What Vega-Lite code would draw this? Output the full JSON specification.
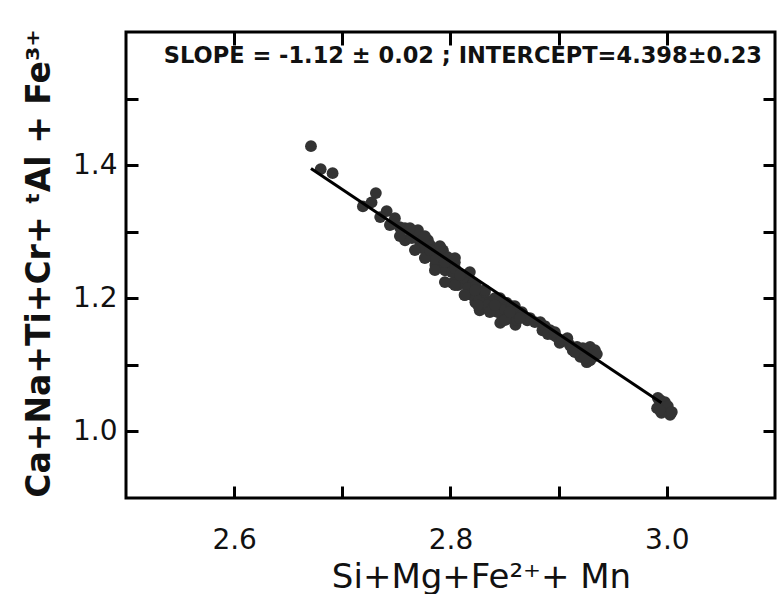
{
  "$schema": "https://vega.github.io/schema/vega-lite/v6.json",
  "autosize": {"type": "none"},
  "padding": {"left": 126, "top": 32, "right": 4, "bottom": 96},
  "width": 649,
  "height": 466,
  "background": "white",
  "config": {
    "view": {"stroke": "black", "strokeWidth": 3},
    "font": "DejaVu Sans",
    "axis": {"grid": false, "domain": false, "tickColor": "black", "tickWidth": 3, "labelColor": "#111", "titleColor": "#111"}
  },
  "datasets": {
    "pts": [
      {"x": 2.671, "y": 1.4285}, {"x": 2.680, "y": 1.394}, {"x": 2.691, "y": 1.388},
      {"x": 2.731, "y": 1.358}, {"x": 2.719, "y": 1.338}, {"x": 2.727, "y": 1.344},
      {"x": 2.741, "y": 1.331}, {"x": 2.735, "y": 1.322}, {"x": 2.744, "y": 1.310},
      {"x": 2.753, "y": 1.307}, {"x": 2.762, "y": 1.302}, {"x": 2.768, "y": 1.295},
      {"x": 2.772, "y": 1.283}, {"x": 2.778, "y": 1.272}, {"x": 2.781, "y": 1.280},
      {"x": 2.784, "y": 1.262}, {"x": 2.790, "y": 1.253}, {"x": 2.793, "y": 1.272},
      {"x": 2.797, "y": 1.262}, {"x": 2.799, "y": 1.247}, {"x": 2.788, "y": 1.265},
      {"x": 2.806, "y": 1.232}, {"x": 2.809, "y": 1.223}, {"x": 2.802, "y": 1.223},
      {"x": 2.815, "y": 1.227}, {"x": 2.818, "y": 1.212}, {"x": 2.824, "y": 1.208},
      {"x": 2.830, "y": 1.202}, {"x": 2.830, "y": 1.197}, {"x": 2.827, "y": 1.182},
      {"x": 2.834, "y": 1.193}, {"x": 2.839, "y": 1.197}, {"x": 2.843, "y": 1.193},
      {"x": 2.846, "y": 1.187}, {"x": 2.848, "y": 1.172}, {"x": 2.846, "y": 1.163},
      {"x": 2.852, "y": 1.193}, {"x": 2.858, "y": 1.182}, {"x": 2.864, "y": 1.172},
      {"x": 2.867, "y": 1.172}, {"x": 2.871, "y": 1.167}, {"x": 2.883, "y": 1.164},
      {"x": 2.885, "y": 1.152}, {"x": 2.892, "y": 1.152}, {"x": 2.895, "y": 1.145},
      {"x": 2.898, "y": 1.142}, {"x": 2.901, "y": 1.133}, {"x": 2.908, "y": 1.140},
      {"x": 2.908, "y": 1.137}, {"x": 2.913, "y": 1.122}, {"x": 2.917, "y": 1.127},
      {"x": 2.920, "y": 1.112}, {"x": 2.926, "y": 1.122}, {"x": 2.929, "y": 1.127},
      {"x": 2.932, "y": 1.112}, {"x": 2.926, "y": 1.104}, {"x": 2.929, "y": 1.107},
      {"x": 2.994, "y": 1.047}, {"x": 2.996, "y": 1.040}, {"x": 3.000, "y": 1.032},
      {"x": 2.991, "y": 1.035}, {"x": 3.003, "y": 1.025}, {"x": 2.995, "y": 1.028},
      {"x": 2.758, "y": 1.287}, {"x": 2.776, "y": 1.290}, {"x": 2.786, "y": 1.250},
      {"x": 2.795, "y": 1.242}, {"x": 2.804, "y": 1.254}, {"x": 2.811, "y": 1.235},
      {"x": 2.813, "y": 1.205}, {"x": 2.821, "y": 1.223}, {"x": 2.823, "y": 1.194},
      {"x": 2.836, "y": 1.182}, {"x": 2.855, "y": 1.170}, {"x": 2.860, "y": 1.160},
      {"x": 2.7486, "y": 1.3204}, {"x": 2.7579, "y": 1.3054}, {"x": 2.7643, "y": 1.2904},
      {"x": 2.7699, "y": 1.3024}, {"x": 2.7736, "y": 1.2754}, {"x": 2.7791, "y": 1.2874},
      {"x": 2.7828, "y": 1.2694}, {"x": 2.7865, "y": 1.2574}, {"x": 2.7911, "y": 1.2754},
      {"x": 2.7939, "y": 1.2483}, {"x": 2.7985, "y": 1.2544}, {"x": 2.8013, "y": 1.2393},
      {"x": 2.8041, "y": 1.2453}, {"x": 2.8068, "y": 1.2198}, {"x": 2.8115, "y": 1.2303},
      {"x": 2.8161, "y": 1.2153}, {"x": 2.8198, "y": 1.2048}, {"x": 2.8235, "y": 1.2183},
      {"x": 2.8262, "y": 1.1973}, {"x": 2.8318, "y": 1.2093}, {"x": 2.8346, "y": 1.1898},
      {"x": 2.8383, "y": 1.1853}, {"x": 2.8410, "y": 1.2003}, {"x": 2.8438, "y": 1.1793},
      {"x": 2.8503, "y": 1.1823}, {"x": 2.8530, "y": 1.1703}, {"x": 2.8567, "y": 1.1883},
      {"x": 2.8614, "y": 1.1673}, {"x": 2.8660, "y": 1.1793}, {"x": 2.8734, "y": 1.1703},
      {"x": 2.8780, "y": 1.1643}, {"x": 2.8872, "y": 1.1583}, {"x": 2.8900, "y": 1.1462},
      {"x": 2.8965, "y": 1.1492}, {"x": 2.9030, "y": 1.1372}, {"x": 2.9103, "y": 1.1297},
      {"x": 2.9150, "y": 1.1192}, {"x": 2.9224, "y": 1.1252}, {"x": 2.9242, "y": 1.1102},
      {"x": 2.9335, "y": 1.1222}, {"x": 2.9353, "y": 1.1162},
      {"x": 2.9917, "y": 1.0502}, {"x": 2.9982, "y": 1.0441}, {"x": 3.0009, "y": 1.0381},
      {"x": 2.9935, "y": 1.0321}, {"x": 3.0046, "y": 1.0291},
      {"x": 2.7625, "y": 1.3054}, {"x": 2.7763, "y": 1.2934}, {"x": 2.7902, "y": 1.2784},
      {"x": 2.8041, "y": 1.2604}, {"x": 2.8179, "y": 1.2393}, {"x": 2.8318, "y": 1.2123},
      {"x": 2.8457, "y": 1.2003}, {"x": 2.8595, "y": 1.1883}, {"x": 2.7532, "y": 1.2934},
      {"x": 2.7671, "y": 1.2724}, {"x": 2.7763, "y": 1.2604}, {"x": 2.7856, "y": 1.2423},
      {"x": 2.7948, "y": 1.2243}, {"x": 2.8041, "y": 1.2198}, {"x": 2.8133, "y": 1.2048},
      {"x": 2.8253, "y": 1.1898}, {"x": 2.8364, "y": 1.1793}, {"x": 2.8503, "y": 1.1673},
      {"x": 2.8641, "y": 1.1703}, {"x": 2.7810, "y": 1.2724}, {"x": 2.7948, "y": 1.2544},
      {"x": 2.8087, "y": 1.2348}, {"x": 2.8226, "y": 1.2123}, {"x": 2.8410, "y": 1.1898},
      {"x": 2.8549, "y": 1.1793}
    ],
    "fit": [
      {"x": 2.671, "y": 1.395},
      {"x": 2.995, "y": 1.043}
    ],
    "note": [
      {"x": 2.535, "y": 1.564, "label": "SLOPE = -1.12 ± 0.02 ; INTERCEPT=4.398±0.23"}
    ]
  },
  "resolve": {"axis": {"x": "independent", "y": "independent"}},
  "layer": [
    {
      "data": {"name": "pts"},
      "mark": {"type": "point", "filled": true, "shape": "circle", "size": 140, "color": "#333333", "opacity": 1},
      "encoding": {
        "x": {
          "field": "x", "type": "quantitative",
          "scale": {"domain": [2.5, 3.1], "nice": false, "zero": false},
          "axis": {
            "orient": "bottom", "values": [2.6, 2.7, 2.8, 2.9, 3.0],
            "tickSize": -12, "labelPadding": 40, "labelFontSize": 28,
            "labelExpr": "indexof(['2.6','2.8','3.0'], format(datum.value,'.1f')) >= 0 ? format(datum.value,'.1f') : ''",
            "title": "Si+Mg+Fe²⁺+ Mn", "titleFontSize": 34, "titleFontWeight": "normal",
            "titleX": 355, "titleY": 62, "titleBaseline": "top"
          }
        },
        "y": {
          "field": "y", "type": "quantitative",
          "scale": {"domain": [0.9, 1.6], "nice": false, "zero": false},
          "axis": {
            "orient": "left", "values": [1.0, 1.1, 1.2, 1.3, 1.4, 1.5],
            "tickSize": -12, "labelPadding": 21, "labelFontSize": 28,
            "labelExpr": "indexof(['1.0','1.2','1.4'], format(datum.value,'.1f')) >= 0 ? format(datum.value,'.1f') : ''",
            "title": "Ca+Na+Ti+Cr+ ᵗAl + Fe³⁺", "titleFontSize": 33, "titleFontWeight": "bold",
            "titleX": -70, "titleY": 231, "titleBaseline": "bottom", "titleAngle": 270
          }
        }
      }
    },
    {
      "data": {"name": "fit"},
      "mark": {"type": "line", "color": "black", "strokeWidth": 3},
      "encoding": {
        "x": {
          "field": "x", "type": "quantitative",
          "scale": {"domain": [2.5, 3.1], "nice": false, "zero": false},
          "axis": {"orient": "top", "values": [2.6, 2.7, 2.8, 2.9, 3.0], "tickSize": -13, "labels": false, "title": null}
        },
        "y": {
          "field": "y", "type": "quantitative",
          "scale": {"domain": [0.9, 1.6], "nice": false, "zero": false},
          "axis": {"orient": "right", "values": [1.0, 1.1, 1.2, 1.3, 1.4, 1.5], "tickSize": -12, "labels": false, "title": null}
        }
      }
    },
    {
      "data": {"name": "note"},
      "mark": {"type": "text", "align": "left", "baseline": "middle", "fontSize": 22.5, "fontWeight": "bold", "color": "#111"},
      "encoding": {
        "x": {"field": "x", "type": "quantitative", "scale": {"domain": [2.5, 3.1], "nice": false, "zero": false}, "axis": null},
        "y": {"field": "y", "type": "quantitative", "scale": {"domain": [0.9, 1.6], "nice": false, "zero": false}, "axis": null},
        "text": {"field": "label"}
      }
    }
  ]
}
